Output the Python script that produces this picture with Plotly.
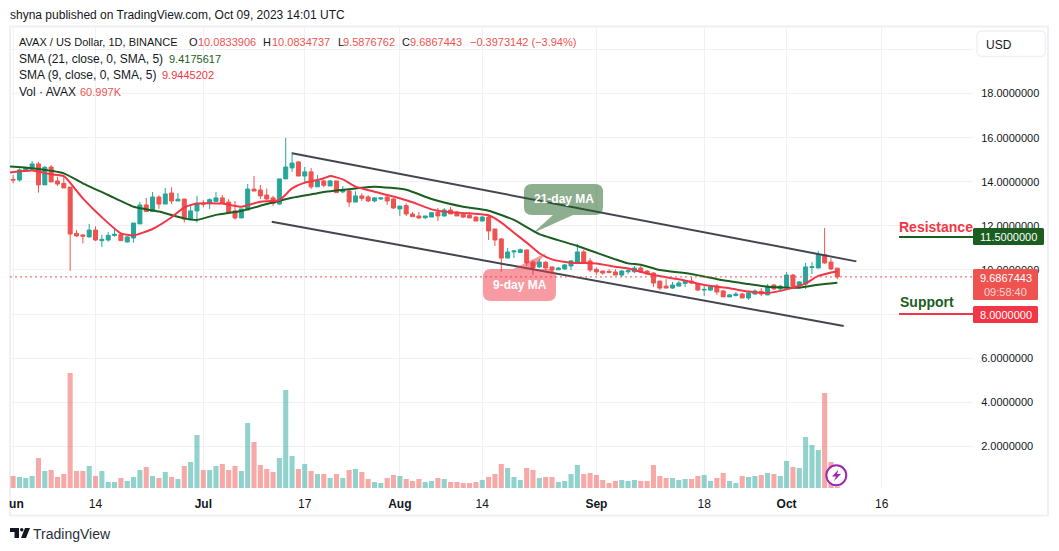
import pandas as pd
import plotly.graph_objects as go

W, H = 1059, 551

start_date = "2023-06-01"
opens = [14.11,14.08,14.48,14.57,14.81,13.86,14.67,14.04,13.93,13.76,11.66,11.59,11.50,11.81,11.33,11.36,11.56,11.62,11.27,11.45,
12.09,12.95,12.65,13.31,12.99,13.49,13.13,13.22,12.28,12.68,13.02,13.01,13.11,13.27,13.08,12.68,12.36,12.72,13.67,13.63,
13.40,13.27,12.99,14.13,14.63,14.90,14.26,14.45,13.77,14.04,13.81,14.04,13.54,13.58,13.08,13.36,13.31,13.13,13.22,13.31,
13.22,12.77,12.92,12.54,12.45,12.37,12.40,12.63,12.45,12.72,12.63,12.54,12.49,12.40,12.22,12.40,11.86,11.41,10.54,10.82,
10.79,10.91,10.36,10.14,10.35,10.14,10.01,10.05,10.18,10.36,10.82,10.41,10.03,9.95,9.94,9.91,9.77,9.92,9.92,10.09,
9.95,9.86,9.50,9.27,9.18,9.27,9.39,9.50,9.36,9.09,9.09,9.27,9.05,8.78,8.84,8.91,8.73,8.91,9.03,8.87,
9.32,9.14,9.18,9.77,9.27,9.36,10.11,10.09,10.69,10.36,10.0834]
highs = [14.31,14.61,14.69,14.94,14.90,14.72,14.76,14.23,14.23,13.76,11.81,11.62,12.09,11.98,11.59,11.72,11.87,11.62,11.54,12.13,
13.08,13.27,13.54,13.39,13.72,13.75,13.49,13.22,12.99,13.36,13.17,13.25,13.54,13.40,13.21,13.13,12.77,13.90,14.26,13.86,
13.70,13.36,14.13,15.99,15.35,14.94,14.67,14.63,14.31,14.08,14.08,14.04,13.81,13.63,13.57,13.48,13.40,13.31,13.31,13.45,
13.27,12.90,13.02,12.63,12.63,12.45,12.63,12.81,12.81,12.86,12.68,12.59,12.59,12.45,12.45,12.49,11.86,11.45,11.00,10.91,
10.97,10.91,10.45,10.50,10.41,10.14,10.14,10.27,10.45,11.18,10.91,10.54,10.12,9.97,10.03,10.04,10.00,10.04,10.18,10.18,
10.00,9.91,9.50,9.59,9.46,9.50,9.55,9.68,9.41,9.27,9.32,9.36,9.09,8.91,9.00,8.96,9.00,9.12,9.18,9.36,
9.36,9.32,9.91,9.82,9.50,10.32,10.36,10.86,11.90,10.54,10.0835]
lows = [13.93,14.01,14.48,14.54,13.51,13.86,13.99,13.81,13.72,9.96,11.51,11.21,11.47,11.31,11.04,11.29,11.51,11.33,11.24,11.24,
12.09,12.65,12.65,12.78,12.99,12.99,13.13,12.15,12.28,12.15,12.84,12.77,13.11,13.02,12.59,12.28,12.36,12.72,13.58,13.22,
13.18,12.90,12.96,14.13,14.45,14.26,13.90,13.67,13.77,13.75,13.81,13.51,13.48,12.87,13.08,13.13,13.08,13.07,13.17,12.95,
12.77,12.45,12.45,12.40,12.31,12.31,12.40,12.22,12.42,12.54,12.45,12.36,12.36,12.22,12.22,11.36,11.09,9.92,10.54,10.54,
10.79,10.18,9.77,10.09,10.00,9.91,10.00,10.00,10.00,10.36,10.32,9.91,9.77,9.79,9.85,9.77,9.68,9.82,9.86,9.86,
9.82,9.23,9.09,9.18,9.14,9.26,9.23,9.36,9.05,8.82,9.05,8.87,8.78,8.78,8.80,8.73,8.64,8.87,8.82,8.87,
9.09,9.09,9.14,9.23,9.23,9.14,9.82,10.09,10.27,10.00,9.5877]
closes = [14.08,14.54,14.64,14.81,13.86,14.66,13.99,13.90,13.72,11.63,11.54,11.53,11.81,11.36,11.39,11.57,11.62,11.33,11.50,12.13,
12.95,12.65,13.31,12.99,13.45,13.13,13.21,12.31,12.68,13.02,12.99,13.19,13.27,13.02,12.59,12.36,12.77,13.67,13.58,13.36,
13.22,13.02,14.13,14.67,14.85,14.26,14.45,13.77,14.04,13.84,14.04,13.51,13.63,13.08,13.36,13.25,13.13,13.27,13.27,13.13,
12.81,12.90,12.54,12.42,12.36,12.45,12.60,12.45,12.72,12.54,12.45,12.40,12.36,12.22,12.40,11.77,11.36,10.54,10.82,10.86,
10.92,10.32,10.09,10.36,10.09,10.00,10.09,10.23,10.41,10.82,10.36,10.00,9.91,9.86,9.89,9.77,9.95,9.97,10.09,9.91,
9.82,9.41,9.18,9.18,9.32,9.41,9.49,9.41,9.09,9.12,9.23,9.00,8.78,8.87,8.91,8.73,8.96,9.05,8.91,9.27,
9.14,9.27,9.77,9.27,9.46,10.14,10.15,10.69,10.32,10.05,9.6867]
volumes_k = [480,440,400,480,1200,680,720,440,560,4600,680,680,880,480,680,240,240,400,280,440,
720,840,480,400,640,440,360,880,1040,2120,720,720,880,960,720,880,680,2600,1840,920,
760,640,1200,3920,1280,760,960,680,560,560,400,560,400,720,760,640,360,240,200,400,
520,480,360,280,360,240,280,400,360,240,240,200,200,240,320,440,560,960,800,440,
320,800,720,400,440,440,240,280,560,920,560,600,520,320,200,280,320,280,320,280,
280,920,480,400,400,320,360,360,480,520,280,400,600,280,200,480,440,480,520,600,
560,480,1080,840,800,2040,1720,1520,3800,1040,61]

ma21_dates = ["2023-05-31","2023-06-04","2023-06-09","2023-06-12","2023-06-16","2023-06-20","2023-06-24","2023-06-28","2023-06-30","2023-07-03","2023-07-07","2023-07-11","2023-07-15","2023-07-19","2023-07-20","2023-07-25","2023-07-28","2023-08-02","2023-08-06","2023-08-11","2023-08-15","2023-08-19","2023-08-23","2023-08-29","2023-09-04","2023-09-06","2023-09-08","2023-09-11","2023-09-16","2023-09-21","2023-09-25","2023-09-28","2023-10-03","2023-10-06","2023-10-09"]
ma21_values = [14.70,14.61,14.38,13.93,13.40,12.87,12.65,12.34,12.27,12.50,12.68,12.99,13.28,13.48,13.54,13.70,13.78,13.64,13.22,12.87,12.69,12.27,11.63,11.09,10.48,10.30,10.24,10.00,9.82,9.53,9.36,9.24,9.20,9.33,9.42]
ma9_dates = ["2023-05-31","2023-06-04","2023-06-07","2023-06-09","2023-06-12","2023-06-15","2023-06-18","2023-06-20","2023-06-23","2023-06-26","2023-06-28","2023-06-30","2023-07-04","2023-07-07","2023-07-10","2023-07-13","2023-07-15","2023-07-17","2023-07-19","2023-07-20","2023-07-21","2023-07-23","2023-07-25","2023-07-28","2023-07-31","2023-08-03","2023-08-06","2023-08-09","2023-08-12","2023-08-15","2023-08-17","2023-08-19","2023-08-21","2023-08-23","2023-08-25","2023-08-28","2023-09-01","2023-09-04","2023-09-06","2023-09-10","2023-09-14","2023-09-18","2023-09-22","2023-09-25","2023-09-28","2023-10-01","2023-10-04","2023-10-06","2023-10-09"]
ma9_values = [14.41,14.51,14.34,14.26,13.25,12.39,11.66,11.57,11.86,12.39,12.84,13.02,13.01,12.87,13.10,13.17,13.70,13.96,14.08,14.16,14.26,14.11,13.78,13.55,13.33,13.07,12.75,12.62,12.57,12.48,12.15,11.69,11.24,10.76,10.48,10.33,10.30,10.15,10.07,9.77,9.58,9.32,9.17,9.02,8.96,9.12,9.39,9.73,9.94]

channel_upper_dates = ["2023-07-15 00:00", "2023-10-12 00:00"]
channel_upper_values = [15.29, 10.39]
channel_lower_dates = ["2023-07-11 19:00", "2023-10-10 00:00"]
channel_lower_values = [12.19, 7.46]

tick_dates = ["2023-06-01","2023-06-14","2023-07-01","2023-07-17","2023-08-01","2023-08-14","2023-09-01","2023-09-18","2023-10-01","2023-10-16"]
tick_labels = ["<b>Jun</b>","14","<b>Jul</b>","17","<b>Aug</b>","14","<b>Sep</b>","18","<b>Oct</b>","16"]
price_ticks = [2,4,6,8,10,12,14,16,18,20]
price_labels = ["2.0000000","4.0000000","6.0000000","","10.0000000","12.0000000","14.0000000","16.0000000","18.0000000",""]

resistance_level = 11.5
support_level = 8.0
last_price = 9.6867443

UP, DOWN = "#26a69a", "#ef5350"
GRID = "#eff1f6"
FRAME = "#eff0f6"
TEXT = "#131722"
FONT = "Liberation Sans"
RED = "#f23645"
GREEN = "#1b5e20"

dates = pd.date_range(start_date, periods=len(closes), freq="D")
vol_colors = ["rgba(38,166,154,0.5)" if c >= o else "rgba(239,83,80,0.5)" for o, c in zip(opens, closes)]

def fx(x): return x / W
def fy(y): return 1 - y / H
def P(d):
    return " ".join(c if isinstance(c, str) else f"{fx(c[0]):.5f},{fy(c[1]):.5f}" for c in d)
def rrect(x0, y0, x1, y1, r):
    return P(["M", (x0+r, y0), "L", (x1-r, y0), "Q", (x1, y0), (x1, y0+r), "L", (x1, y1-r), "Q", (x1, y1), (x1-r, y1),
              "L", (x0+r, y1), "Q", (x0, y1), (x0, y1-r), "L", (x0, y0+r), "Q", (x0, y0), (x0+r, y0), "Z"])
def rect(x0, y0, x1, y1, fill, line=None, lw=0, layer="above"):
    return dict(type="rect", xref="paper", yref="paper", x0=fx(x0), x1=fx(x1), y0=fy(y0), y1=fy(y1),
                fillcolor=fill, line=dict(color=line or fill, width=lw), layer=layer)
def path(d, fill, line="rgba(0,0,0,0)", lw=0):
    return dict(type="path", xref="paper", yref="paper", path=d, fillcolor=fill, line=dict(color=line, width=lw), layer="above")
def text(x, y, s, color=TEXT, size=12, anchor="left", family=FONT, valign="middle"):
    return dict(xref="paper", yref="paper", x=fx(x), y=fy(y), text=s, showarrow=False, xanchor=anchor, yanchor=valign,
                font=dict(family=family, size=size, color=color), borderpad=0, borderwidth=0)

fig = go.Figure()
fig.add_bar(x=dates, y=volumes_k, yaxis="y2", marker=dict(color=vol_colors, line_width=0), showlegend=False, hoverinfo="skip")
fig.add_candlestick(x=dates, open=opens, high=highs, low=lows, close=closes, yaxis="y", showlegend=False, hoverinfo="skip",
                    increasing=dict(line=dict(color=UP, width=1), fillcolor=UP),
                    decreasing=dict(line=dict(color=DOWN, width=1), fillcolor=DOWN))
fig.add_scatter(x=pd.to_datetime(ma21_dates), y=ma21_values, mode="lines", line=dict(color=GREEN, width=2, shape="spline", smoothing=0.5), showlegend=False, hoverinfo="skip")
fig.add_scatter(x=pd.to_datetime(ma9_dates), y=ma9_values, mode="lines", line=dict(color=RED, width=2, shape="spline", smoothing=0.5), showlegend=False, hoverinfo="skip")
for dd, vv in ((channel_upper_dates, channel_upper_values), (channel_lower_dates, channel_lower_values)):
    fig.add_scatter(x=pd.to_datetime(dd), y=vv, mode="lines", line=dict(color="#434651", width=2), showlegend=False, hoverinfo="skip")

shapes = [
    dict(type="line", xref="x domain", yref="y", x0=0, x1=1, y0=last_price, y1=last_price, line=dict(color=DOWN, width=1, dash="2px,3px"), layer="above"),
    dict(type="rect", xref="paper", yref="paper", x0=fx(10), x1=fx(1048), y0=fy(26.5), y1=fy(515.5), line=dict(color=FRAME, width=2), fillcolor="rgba(0,0,0,0)", layer="below"),
    rect(0, 490, 9, 512, "#ffffff"),
    # callouts
    path(P(["M", (532, 184), "L", (595, 184), "Q", (603, 184), (603, 192), "L", (603, 207), "Q", (603, 215), (595, 215), "L", (573, 215), "L", (533, 233), "L", (553, 215),
            "L", (532, 215), "Q", (524, 215), (524, 207), "L", (524, 192), "Q", (524, 184), (532, 184), "Z"]), "rgba(27,94,32,0.5)"),
    path(P(["M", (491, 269), "L", (513, 269), "L", (546, 253), "L", (533, 269), "L", (548, 269), "Q", (556, 269), (556, 277), "L", (556, 293), "Q", (556, 301), (548, 301),
            "L", (491, 301), "Q", (483, 301), (483, 293), "L", (483, 277), "Q", (483, 269), (491, 269), "Z"]), "rgba(242,54,69,0.5)"),
    # level lines
    dict(type="line", xref="paper", yref="y", x0=fx(899), x1=fx(973), y0=resistance_level, y1=resistance_level, line=dict(color=GREEN, width=2), layer="above"),
    dict(type="line", xref="paper", yref="y", x0=fx(899), x1=fx(973), y0=support_level, y1=support_level, line=dict(color=RED, width=2), layer="above"),
    path(rrect(973, 228, 1044, 245, 1.5), GREEN),
    path(rrect(973, 306, 1038, 323, 1.5), RED),
    path(rrect(973, 269, 1038, 300, 1.5), DOWN),
    # USD button
    path(rrect(977, 31, 1045.5, 56.5, 5), "#ffffff", GRID, 1.5),
    # bolt badge
    dict(type="circle", xref="paper", yref="paper", x0=fx(826.3), x1=fx(846.3), y0=fy(465.3), y1=fy(485.3), fillcolor="#ffffff", line=dict(color="#9c27b0", width=2), layer="above"),
    path(P(["M", (838.5, 469.5), "L", (832, 476.5), "L", (836, 476.5), "L", (834, 481), "L", (841, 474), "L", (837, 474), "Z"]), "#9c27b0"),
    # TradingView logo
    path(P(["M", (10, 528), "L", (19, 528), "L", (19, 538), "L", (14.5, 538), "L", (14.5, 532), "L", (10, 532), "Z"]), "#131722"),
    dict(type="circle", xref="paper", yref="paper", x0=fx(20), x1=fx(23.5), y0=fy(528), y1=fy(531.5), fillcolor="#131722", line=dict(width=0), layer="above"),
    path(P(["M", (25, 528), "L", (30, 528), "L", (26, 538), "L", (21, 538), "Z"]), "#131722"),
]

annotations = [
    text(9.5, 15, "shyna published on TradingView.com, Oct 09, 2023 14:01 UTC", size=12),
    text(18.5, 42, "AVAX / US Dollar, 1D, BINANCE", size=11),
    text(189, 42, "O", size=11), text(198, 42, "10.0833906", DOWN, 11),
    text(263, 42, "H", size=11), text(272, 42, "10.0834737", DOWN, 11),
    text(338, 42, "L", size=11), text(343, 42, "9.5876762", DOWN, 11),
    text(402, 42, "C", size=11), text(410, 42, "9.6867443", DOWN, 11),
    text(470, 42, "−0.3973142 (−3.94%)", DOWN, 11),
    text(18.5, 59, "SMA (21, close, 0, SMA, 5)", size=12), text(169, 59, "9.4175617", GREEN, 11),
    text(18.5, 75, "SMA (9, close, 0, SMA, 5)", size=12), text(162, 75, "9.9445202", RED, 11),
    text(18.5, 92, "Vol · AVAX", size=12), text(79.5, 92, "60.997K", DOWN, 11),
    text(563.5, 199.5, "<b>21-day MA</b>", "#ffffff", 12, "center"),
    text(519.5, 285, "<b>9-day MA</b>", "#ffffff", 12, "center"),
    text(936, 227, "<b>Resistance</b>", RED, 14, "center"),
    text(926.5, 302, "<b>Support</b>", GREEN, 14, "center"),
    text(1008.5, 237, "11.5000000", "#ffffff", 11, "center"),
    text(1005.5, 315, "8.0000000", "#ffffff", 11, "center"),
    text(1005.5, 277.5, "9.6867443", "#ffffff", 11, "center"),
    text(1005.5, 291.5, "09:58:40", "rgba(255,255,255,0.75)", 11, "center"),
    text(986, 44.5, "USD", size=12),
    text(33, 533.5, "TradingView", "#2a2e39", 14),
]

fig.update_layout(
    template="none",
    width=W, height=H, margin=dict(l=0, r=0, t=0, b=0, pad=0, autoexpand=False), paper_bgcolor="#ffffff", plot_bgcolor="#ffffff",
    bargap=0.2, boxgap=0.1, boxgroupgap=0.3, showlegend=False, shapes=shapes, annotations=annotations,
    font=dict(family=FONT, size=12, color=TEXT),
    xaxis=dict(type="date", domain=[fx(10), fx(973)], range=["2023-05-31 12:15", "2023-10-30 09:36"], tickvals=pd.to_datetime(tick_dates),
               ticktext=tick_labels, tickangle=0, showgrid=True, gridcolor=GRID, gridwidth=1, zeroline=False, showline=False, automargin=False,
               ticks="outside", ticklen=5, tickcolor="rgba(0,0,0,0)", rangeslider=dict(visible=False), tickfont=dict(family=FONT, size=12, color=TEXT)),
    yaxis=dict(domain=[fy(488), fy(27)], range=[0.113, 21.02], side="right", tickvals=price_ticks, ticktext=price_labels, showgrid=True, automargin=False,
               gridcolor=GRID, zeroline=False, showline=False, ticks="outside", ticklen=5, tickcolor="rgba(0,0,0,0)", tickfont=dict(family=FONT, size=11, color=TEXT)),
    yaxis2=dict(overlaying="y", range=[0, 18440], showgrid=False, showticklabels=False, zeroline=False, showline=False, side="left", automargin=False),
)

fig.write_html("out.html", config=dict(displayModeBar=False),
               post_script="document.body.style.margin='0';document.body.style.overflow='hidden';")
